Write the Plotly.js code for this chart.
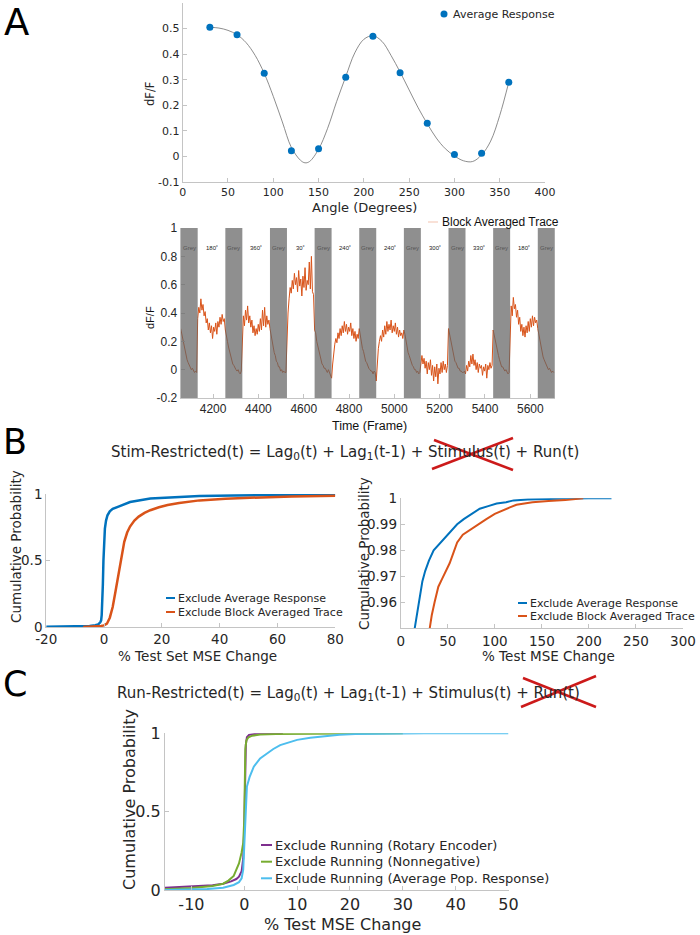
<!DOCTYPE html>
<html><head><meta charset="utf-8">
<script src="https://cdn.plot.ly/plotly-3.0.1.min.js"></script>
<style>html,body{margin:0;padding:0;background:#fff}#chart{width:700px;height:935px}</style>
</head><body><div id="chart"></div>
<script>
// ---------- Panel A (top): tuning curve ----------
const respAngles = [30, 60, 90, 120, 150, 180, 210, 240, 270, 300, 330, 360];
const respValues = [0.505, 0.476, 0.325, 0.022, 0.030, 0.310, 0.470, 0.327, 0.130, 0.008, 0.012, 0.290];
const fitAngles = [30, 40, 50, 60, 70, 80, 90, 100, 110, 120, 130, 135, 140, 150, 160, 170, 180, 190, 200, 210, 220, 230, 240, 250, 260, 270, 280, 290, 300, 310, 320, 330, 340, 350, 360];
const fitValues = [0.505, 0.502, 0.493, 0.476, 0.445, 0.395, 0.325, 0.235, 0.135, 0.035, -0.015, -0.025, -0.02, 0.028, 0.11, 0.215, 0.312, 0.405, 0.458, 0.472, 0.45, 0.395, 0.33, 0.26, 0.19, 0.128, 0.072, 0.03, 0.002, -0.017, -0.02, 0.006, 0.06, 0.16, 0.29];
const aTopXTicks = [0, 50, 100, 150, 200, 250, 300, 350, 400];
const aTopYTicks = [-0.1, 0, 0.1, 0.2, 0.3, 0.4, 0.5];
const aTopYText = ['-0.1', '0', '0.1', '0.2', '0.3', '0.4', '0.5'];

// ---------- Panel A (bottom): block averaged trace ----------
const greyStarts = [4057, 4254, 4451, 4648, 4845, 5042, 5239, 5436, 5633];
const greyDuration = 75;
const stimDuration = 122;
const stimLabels = ['180˚', '360˚', '30˚', '240˚', '240˚', '300˚', '330˚', '180˚'];
const greyTraces = [
  [0.29, 0.25, 0.21, 0.17, 0.13, 0.10, 0.07, 0.05, 0.03, 0.02, 0.0, 0.01, -0.01, -0.02, -0.01, -0.02],
  [0.28, 0.25, 0.20, 0.16, 0.13, 0.09, 0.07, 0.04, 0.03, 0.01, 0.0, -0.01, 0.0, -0.02, -0.03, -0.01],
  [0.29, 0.24, 0.21, 0.16, 0.12, 0.10, 0.06, 0.05, 0.02, 0.02, -0.01, 0.0, -0.02, -0.01, -0.02, -0.02],
  [0.28, 0.26, 0.20, 0.17, 0.12, 0.09, 0.07, 0.04, 0.03, 0.01, 0.01, -0.01, -0.02, 0.0, -0.02, -0.03],
  [0.29, 0.24, 0.21, 0.15, 0.13, 0.09, 0.06, 0.05, 0.02, 0.01, 0.0, -0.01, -0.01, -0.03, -0.01, -0.02],
  [0.28, 0.25, 0.20, 0.16, 0.12, 0.10, 0.07, 0.04, 0.03, 0.02, 0.0, 0.0, -0.02, -0.01, -0.03, -0.02],
  [0.29, 0.25, 0.21, 0.16, 0.13, 0.09, 0.06, 0.05, 0.03, 0.01, 0.01, -0.01, -0.01, -0.02, -0.02, -0.01],
  [0.28, 0.24, 0.20, 0.17, 0.12, 0.10, 0.07, 0.04, 0.02, 0.02, 0.0, -0.01, 0.0, -0.02, -0.03, -0.02],
  [0.29, 0.25, 0.21, 0.16, 0.13, 0.09, 0.07, 0.05, 0.03, 0.01, 0.0, 0.01, -0.01, -0.02, -0.01, -0.02]
];
const stimTraces = [
  [0.36, 0.44, 0.40, 0.50, 0.42, 0.46, 0.38, 0.41, 0.33, 0.36, 0.28, 0.33, 0.26, 0.31, 0.22, 0.30, 0.27, 0.33, 0.25, 0.34, 0.30, 0.37, 0.32, 0.39, 0.34, 0.36],
  [0.25, 0.38, 0.31, 0.42, 0.35, 0.45, 0.33, 0.38, 0.30, 0.35, 0.26, 0.31, 0.24, 0.29, 0.25, 0.32, 0.27, 0.36, 0.28, 0.42, 0.31, 0.44, 0.30, 0.38, 0.32, 0.35],
  [0.28, 0.40, 0.50, 0.58, 0.54, 0.63, 0.57, 0.68, 0.60, 0.65, 0.55, 0.70, 0.59, 0.64, 0.52, 0.66, 0.58, 0.72, 0.56, 0.63, 0.60, 0.76, 0.57, 0.80, 0.55, 0.53],
  [-0.06, 0.04, 0.13, 0.18, 0.22, 0.19, 0.26, 0.22, 0.29, 0.24, 0.31, 0.26, 0.34, 0.27, 0.32, 0.25, 0.30, 0.27, 0.33, 0.24, 0.29, 0.22, 0.27, 0.20, 0.25, 0.22],
  [-0.08, 0.06, 0.15, 0.20, 0.24, 0.20, 0.28, 0.23, 0.31, 0.25, 0.34, 0.27, 0.32, 0.28, 0.35, 0.26, 0.31, 0.27, 0.33, 0.25, 0.30, 0.23, 0.28, 0.24, 0.26, 0.22],
  [0.03, 0.10, 0.04, 0.08, 0.01, 0.06, -0.03, 0.05, 0.0, 0.07, -0.04, 0.03, -0.08, 0.02, -0.05, 0.04, -0.10, 0.01, -0.03, 0.05, -0.02, 0.06, 0.0, 0.04, -0.02, 0.03],
  [-0.03, 0.03, -0.01, 0.06, 0.02, 0.10, 0.04, 0.11, 0.03, 0.07, 0.0, 0.05, -0.02, 0.04, 0.01, 0.03, -0.04, 0.02, -0.01, 0.04, -0.06, 0.03, 0.0, 0.05, 0.01, 0.03],
  [0.33, 0.45, 0.38, 0.51, 0.43, 0.46, 0.37, 0.42, 0.32, 0.37, 0.27, 0.32, 0.24, 0.30, 0.23, 0.31, 0.26, 0.34, 0.27, 0.36, 0.30, 0.38, 0.31, 0.37, 0.33, 0.35]
];
const aBotXTicks = [4200, 4400, 4600, 4800, 5000, 5200, 5400, 5600];
const aBotYTicks = [-0.2, 0, 0.2, 0.4, 0.6, 0.8, 1];
const aBotYText = ['-0.2', '0', '0.2', '0.4', '0.6', '0.8', '1'];

// ---------- Panel B (left) ----------
const bLeftBlueX = [-20, -10, -5, -3, -2, -1.3, -1, -0.8, -0.6, -0.4, -0.2, 0, 0.3, 0.7, 1.2, 2, 3, 5, 9, 16, 25, 33, 45, 60, 80];
const bLeftBlueY = [0.001, 0.003, 0.008, 0.013, 0.02, 0.035, 0.05, 0.09, 0.18, 0.32, 0.5, 0.64, 0.74, 0.8, 0.84, 0.87, 0.888, 0.905, 0.94, 0.966, 0.978, 0.985, 0.989, 0.993, 0.996];
const bLeftOrangeX = [-7.2, -4, -2, -1, 0, 1, 2, 3, 4, 5, 6, 7, 8, 9, 10.5, 12, 14, 16, 19, 22, 26, 33, 42, 53, 65, 80];
const bLeftOrangeY = [0.0, 0.002, 0.005, 0.008, 0.012, 0.025, 0.07, 0.15, 0.27, 0.4, 0.53, 0.64, 0.71, 0.755, 0.8, 0.83, 0.858, 0.878, 0.9, 0.917, 0.932, 0.952, 0.965, 0.975, 0.982, 0.986];
const bLeftXTicks = [-20, 0, 20, 40, 60, 80];
const bLeftXText = ['-20', '0', '20', '40', '60', '80'];
const probTicks = [0, 0.5, 1];
const probText = ['0', '0.5', '1'];

// ---------- Panel B (right) ----------
const bRightBlueX = [14, 17, 19, 21, 23, 26, 30, 35, 40, 45, 52, 60, 67, 75, 84, 93, 102, 112, 120, 135, 155, 180, 200, 224];
const bRightBlueY = [0.948, 0.955, 0.96, 0.965, 0.968, 0.972, 0.976, 0.98, 0.982, 0.984, 0.987, 0.99, 0.992, 0.994, 0.996, 0.997, 0.998, 0.9985, 0.9992, 0.9995, 0.9998, 0.9999, 1.0, 1.0];
const bRightOrangeX = [30, 33, 36, 40, 44, 48, 52, 56, 60, 66, 74, 82, 91, 100, 109, 116, 123, 140, 157, 175, 194];
const bRightOrangeY = [0.948, 0.955, 0.96, 0.966, 0.969, 0.972, 0.975, 0.979, 0.983, 0.986, 0.988, 0.99, 0.992, 0.994, 0.9955, 0.9965, 0.9975, 0.9985, 0.999, 0.9993, 1.0];
const bRightXTicks = [0, 50, 100, 150, 200, 250, 300];
const bRightYTicks = [0.96, 0.97, 0.98, 0.99, 1];
const bRightYText = ['0.96', '0.97', '0.98', '0.99', '1'];

// ---------- Panel C ----------
const cPurpleX = [-15, -10, -6, -4, -2.5, -1.5, -1, -0.5, -0.2, 0, 0.1, 0.2, 0.3, 0.5, 0.9, 2, 4, 7.3];
const cPurpleY = [0.015, 0.022, 0.03, 0.04, 0.055, 0.07, 0.085, 0.12, 0.2, 0.4, 0.6, 0.8, 0.93, 0.975, 0.99, 0.996, 0.999, 1.0];
const cGreenX = [-15, -10, -6, -4, -3, -2, -1.5, -1, -0.5, -0.2, 0, 0.1, 0.2, 0.4, 0.8, 1.5, 3, 6, 10, 20, 30];
const cGreenY = [0.004, 0.012, 0.025, 0.04, 0.06, 0.09, 0.13, 0.17, 0.24, 0.3, 0.45, 0.7, 0.9, 0.955, 0.975, 0.985, 0.992, 0.996, 0.998, 0.999, 1.0];
const cCyanX = [-15, -10, -7, -4, -2, -1, -0.5, -0.2, 0, 0.2, 0.5, 1, 1.8, 3, 4.3, 5.5, 6.8, 8.5, 10, 12.5, 15, 18, 21, 26, 34, 42, 50];
const cCyanY = [0.0, 0.003, 0.006, 0.015, 0.032, 0.05, 0.075, 0.13, 0.3, 0.52, 0.66, 0.72, 0.787, 0.84, 0.872, 0.9, 0.925, 0.945, 0.958, 0.972, 0.982, 0.99, 0.995, 0.998, 1.0, 1.0, 1.0];
const cXTicks = [-10, 0, 10, 20, 30, 40, 50];
const cXText = ['-10', '0', '10', '20', '30', '40', '50'];

// ---------- styling helpers ----------
const W = 700, H = 935;
const px = v => v / W;
const py = v => 1 - v / H;
const VERD = 'DejaVu Sans, Verdana, sans-serif';
const ARIAL = 'Liberation Sans, Arial, sans-serif';
const BLUE = '#0072BD', ORANGE = '#D95319', PURPLE = '#7E2F8E', GREEN = '#77AC30', CYAN = '#4DBEEE';
const AXC = '#c4c4c4', TXT = '#262626';

function axis(o) {
  const a = {
    domain: o.domain, range: o.range, anchor: o.anchor,
    showline: true, linecolor: AXC, linewidth: 1, mirror: false,
    ticks: 'inside', ticklen: 4, tickcolor: AXC, tickwidth: 1,
    showgrid: false, zeroline: false, fixedrange: true,
    tickmode: 'array', tickvals: o.tickvals,
    tickfont: {size: o.size, family: o.family || VERD, color: TXT}
  };
  if (o.ticktext) a.ticktext = o.ticktext;
  return a;
}

// build the block-averaged trace from its segments
const traceX = [], traceY = [];
for (let k = 0; k < greyStarts.length; k++) {
  const g = greyTraces[k];
  for (let i = 0; i < g.length; i++) { traceX.push(greyStarts[k] + i * greyDuration / g.length); traceY.push(g[i]); }
  if (k < stimTraces.length) {
    const s = stimTraces[k], t0 = greyStarts[k] + greyDuration;
    for (let i = 0; i < s.length; i++) { traceX.push(t0 + i * stimDuration / s.length); traceY.push(s[i]); }
  }
}

const data = [
  {x: fitAngles, y: fitValues, xaxis: 'x', yaxis: 'y', mode: 'lines', line: {color: '#707070', width: 0.8, shape: 'spline'}, name: 'Fit', hoverinfo: 'skip'},
  {x: respAngles, y: respValues, xaxis: 'x', yaxis: 'y', mode: 'markers', marker: {color: BLUE, size: 7}, name: 'Average Response'},
  {x: traceX, y: traceY, xaxis: 'x2', yaxis: 'y2', mode: 'lines', line: {color: ORANGE, width: 1}, name: 'Block Averaged Trace'},
  {x: bLeftBlueX, y: bLeftBlueY, xaxis: 'x3', yaxis: 'y3', mode: 'lines', line: {color: BLUE, width: 2.5}, name: 'Exclude Average Response'},
  {x: bLeftOrangeX, y: bLeftOrangeY, xaxis: 'x3', yaxis: 'y3', mode: 'lines', line: {color: ORANGE, width: 2.5}, name: 'Exclude Block Averaged Trace'},
  {x: bRightBlueX, y: bRightBlueY, xaxis: 'x4', yaxis: 'y4', mode: 'lines', line: {color: BLUE, width: 2}, name: 'Exclude Average Response'},
  {x: bRightOrangeX, y: bRightOrangeY, xaxis: 'x4', yaxis: 'y4', mode: 'lines', line: {color: ORANGE, width: 2}, name: 'Exclude Block Averaged Trace'},
  {x: cPurpleX, y: cPurpleY, xaxis: 'x5', yaxis: 'y5', mode: 'lines', line: {color: PURPLE, width: 2}, name: 'Exclude Running (Rotary Encoder)'},
  {x: cGreenX, y: cGreenY, xaxis: 'x5', yaxis: 'y5', mode: 'lines', line: {color: GREEN, width: 2}, name: 'Exclude Running (Nonnegative)'},
  {x: cCyanX, y: cCyanY, xaxis: 'x5', yaxis: 'y5', mode: 'lines', line: {color: CYAN, width: 2}, name: 'Exclude Running (Average Pop. Response)'}
];

// ---------- annotations ----------
function note(text, x, y, size, o) {
  o = o || {};
  return {text: text, x: px(x), y: py(y), xref: 'paper', yref: 'paper', showarrow: false,
    xanchor: o.xanchor || 'center', yanchor: o.yanchor || 'middle', textangle: o.angle || 0,
    font: {size: size, family: o.family || VERD, color: o.color || TXT}};
}
const annotations = [
  note('A', 2, 22, 37, {xanchor: 'left', color: '#000'}),
  note('B', 1, 442, 35, {xanchor: 'left', color: '#000'}),
  note('C', 1, 684, 35, {xanchor: 'left', color: '#000'}),
  note('Average Response', 451, 14, 11, {xanchor: 'left'}),
  note('Angle (Degrees)', 364, 208, 13),
  note('dF/F', 150, 94, 11.5, {angle: -90}),
  note('Block Averaged Trace', 440, 222, 12, {xanchor: 'left', family: ARIAL, color: '#111'}),
  note('Time (Frame)', 369, 426, 12.5, {family: ARIAL, color: '#111'}),
  note('dF/F', 150, 318, 11, {angle: -90, family: ARIAL, color: '#111'}),
  note('Stim-Restricted(t) = Lag<sub>0</sub>(t) + Lag<sub>1</sub>(t-1) + Stimulus(t) + Run(t)', 345, 452, 15),
  note('Exclude Average Response', 176, 598, 11, {xanchor: 'left'}),
  note('Exclude Block Averaged Trace', 176, 612, 11, {xanchor: 'left'}),
  note('% Test Set MSE Change', 197, 656, 13.5),
  note('Cumulative Probability', 16, 547, 13.5, {angle: -90}),
  note('Exclude Average Response', 528, 603, 11, {xanchor: 'left'}),
  note('Exclude Block Averaged Trace', 528, 616, 11, {xanchor: 'left'}),
  note('% Test MSE Change', 548, 656, 13.5),
  note('Cumulative Probability', 364, 554, 13.5, {angle: -90}),
  note('Run-Restricted(t) = Lag<sub>0</sub>(t) + Lag<sub>1</sub>(t-1) + Stimulus(t) + Run(t)', 348, 693, 15),
  note('Exclude Running (Rotary Encoder)', 273, 845, 13, {xanchor: 'left'}),
  note('Exclude Running (Nonnegative)', 273, 861.7, 13, {xanchor: 'left'}),
  note('Exclude Running (Average Pop. Response)', 273, 878.3, 13, {xanchor: 'left'}),
  note('% Test MSE Change', 342, 924, 16),
  note('Cumulative Probability', 129, 800, 16, {angle: -90})
];
for (let k = 0; k < greyStarts.length; k++) {
  annotations.push({text: 'Grey', x: greyStarts[k] + greyDuration / 2, y: 0.86, xref: 'x2', yref: 'y2', showarrow: false,
    font: {size: 6, family: ARIAL, color: '#555'}});
  if (k < stimLabels.length) {
    annotations.push({text: stimLabels[k], x: greyStarts[k] + greyDuration + stimDuration / 2, y: 0.86, xref: 'x2', yref: 'y2', showarrow: false,
      font: {size: 6, family: ARIAL, color: '#222'}});
  }
}

// ---------- shapes ----------
const shapes = [];
for (let k = 0; k < greyStarts.length; k++) {
  shapes.push({type: 'rect', xref: 'x2', yref: 'y2', x0: greyStarts[k], x1: greyStarts[k] + greyDuration, y0: -0.2, y1: 1,
    fillcolor: 'rgba(100,100,100,0.72)', line: {width: 0}, layer: 'above'});
}
function pline(x0, y0, x1, y1, color, width) {
  return {type: 'line', xref: 'paper', yref: 'paper', x0: px(x0), y0: py(y0), x1: px(x1), y1: py(y1), line: {color: color, width: width}};
}
shapes.push({type: 'circle', xref: 'paper', yref: 'paper', x0: px(440.5), x1: px(447.5), y0: py(17.5), y1: py(10.5), fillcolor: BLUE, line: {width: 0}});
shapes.push(pline(428, 222, 438, 222, 'rgba(217,83,25,0.35)', 1));
shapes.push(pline(166, 598, 175, 598, BLUE, 2));
shapes.push(pline(166, 612, 175, 612, ORANGE, 2));
shapes.push(pline(518, 603, 527, 603, BLUE, 2));
shapes.push(pline(518, 616, 527, 616, ORANGE, 2));
shapes.push(pline(261, 845, 272, 845, PURPLE, 2));
shapes.push(pline(261, 861.7, 272, 861.7, GREEN, 2));
shapes.push(pline(261, 878.3, 272, 878.3, CYAN, 2));
// red crosses over removed terms
shapes.push(pline(432, 469, 513, 438, '#cc1a1a', 2.5));
shapes.push(pline(434, 440, 513, 470, '#cc1a1a', 2.5));
shapes.push(pline(521, 707, 596, 676, '#cc1a1a', 2.5));
shapes.push(pline(523, 678, 596, 707, '#cc1a1a', 2.5));

const layout = {
  width: W, height: H, autosize: false,
  margin: {l: 0, r: 0, t: 0, b: 0},
  paper_bgcolor: '#fff', plot_bgcolor: 'rgba(0,0,0,0)',
  showlegend: false,
  font: {family: VERD, color: TXT},
  xaxis: axis({domain: [px(182.7), px(545)], range: [0, 400], anchor: 'y', tickvals: aTopXTicks, size: 11}),
  yaxis: axis({domain: [py(182), py(3)], range: [-0.1, 0.6], anchor: 'x', tickvals: aTopYTicks, ticktext: aTopYText, size: 11}),
  xaxis2: axis({domain: [px(180.7), px(555)], range: [4057, 5709], anchor: 'y2', tickvals: aBotXTicks, size: 12, family: ARIAL}),
  yaxis2: axis({domain: [py(398), py(228)], range: [-0.2, 1], anchor: 'x2', tickvals: aBotYTicks, ticktext: aBotYText, size: 12, family: ARIAL}),
  xaxis3: axis({domain: [px(46.2), px(335.3)], range: [-20, 80], anchor: 'y3', tickvals: bLeftXTicks, ticktext: bLeftXText, size: 13.5}),
  yaxis3: axis({domain: [py(627), py(494)], range: [0, 1], anchor: 'x3', tickvals: probTicks, ticktext: probText, size: 13.5}),
  xaxis4: axis({domain: [px(400.7), px(683)], range: [0, 300], anchor: 'y4', tickvals: bRightXTicks, size: 13.5}),
  yaxis4: axis({domain: [py(628.3), py(498.3)], range: [0.95, 1], anchor: 'x4', tickvals: bRightYTicks, ticktext: bRightYText, size: 13.5}),
  xaxis5: axis({domain: [px(165), px(508.5)], range: [-15, 50], anchor: 'y5', tickvals: cXTicks, ticktext: cXText, size: 16}),
  yaxis5: axis({domain: [py(890), py(733.3)], range: [0, 1], anchor: 'x5', tickvals: probTicks, ticktext: probText, size: 16}),
  annotations: annotations,
  shapes: shapes
};

Plotly.newPlot('chart', data, layout, {displayModeBar: false, staticPlot: true});
</script></body></html>
